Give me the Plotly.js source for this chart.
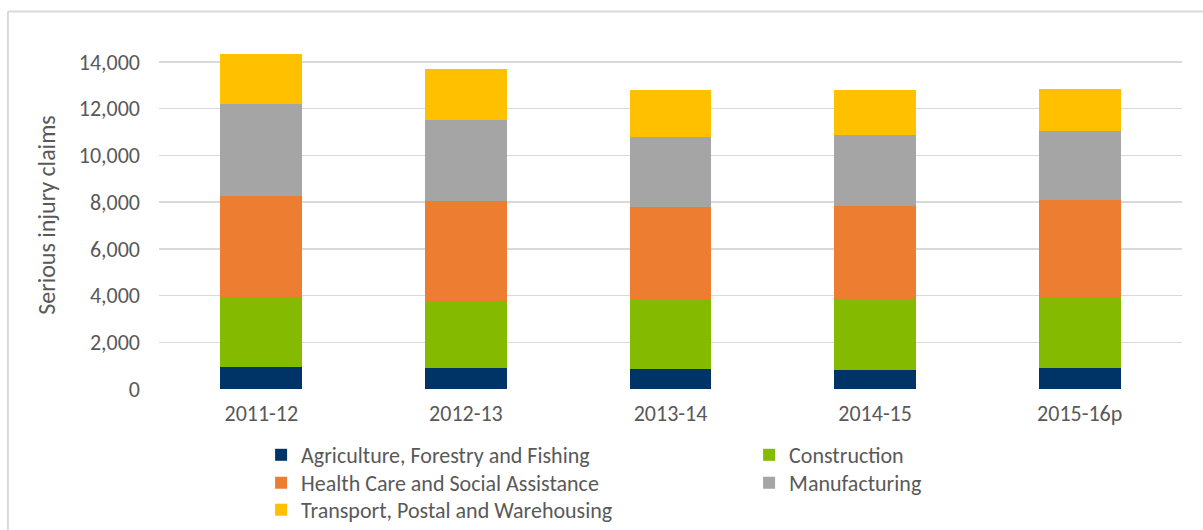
<!DOCTYPE html>
<html>
<head>
<meta charset="utf-8">
<script src="https://cdn.plot.ly/plotly-3.0.1.min.js"></script>
<style>
  html, body { margin: 0; padding: 0; background: #ffffff; }
  #chart { width: 1203px; height: 530px; }
</style>
</head>
<body>
<div id="chart"></div>
<script>
const years = ["2011-12", "2012-13", "2013-14", "2014-15", "2015-16p"];
const agriculture = [950, 910, 850, 810, 900];
const construction = [2990, 2850, 3000, 3045, 3040];
const healthCare = [4340, 4270, 3930, 3985, 4140];
const manufacturing = [3940, 3480, 2990, 3020, 2950];
const transport = [2120, 2200, 2040, 1950, 1820];

const seriesNames = [
  "Agriculture, Forestry and Fishing",
  "Construction",
  "Health Care and Social Assistance",
  "Manufacturing",
  "Transport, Postal and Warehousing"
];
const seriesValues = [agriculture, construction, healthCare, manufacturing, transport];
const seriesColors = ["#003366", "#84BA00", "#ED7D31", "#A5A5A5", "#FFC000"];
const legendRows = ["legend", "legend", "legend2", "legend2", "legend3"];

const FONT = "Carlito, Calibri, 'Open Sans', sans-serif";
const TXT = "#595959";

const traces = seriesNames.map((name, i) => ({
  type: "bar",
  name: name,
  x: years,
  y: seriesValues[i],
  legend: legendRows[i],
  marker: { color: seriesColors[i], line: { width: 0 } },
  hoverinfo: "x+y+name"
}));

function legendRow(y) {
  return {
    orientation: "h",
    x: 0.0998,
    xanchor: "left",
    y: y,
    yanchor: "top",
    entrywidth: 443,
    entrywidthmode: "pixels",
    traceorder: "normal",
    font: { family: FONT, size: 22, color: TXT },
    bgcolor: "rgba(0,0,0,0)"
  };
}

const layout = {
  width: 1203,
  height: 530,
  barmode: "stack",
  bargap: 0.6,
  paper_bgcolor: "#ffffff",
  plot_bgcolor: "#ffffff",
  margin: { l: 159, r: 21, t: 41, b: 141, autoexpand: false },
  font: { family: FONT, color: TXT, size: 22 },
  xaxis: {
    type: "category",
    showgrid: false,
    zeroline: false,
    showline: false,
    ticks: "",
    ticklabelstandoff: 9,
    tickfont: { family: FONT, size: 22, color: TXT },
    automargin: false
  },
  yaxis: {
    range: [0, 14900],
    tickvals: [0, 2000, 4000, 6000, 8000, 10000, 12000, 14000],
    tickformat: ",d",
    showgrid: true,
    gridcolor: "#D9D9D9",
    gridwidth: 1.5,
    zeroline: false,
    showline: false,
    ticks: "",
    ticklabelstandoff: 18,
    tickfont: { family: FONT, size: 22, color: TXT },
    automargin: false,
    title: { text: "Serious injury claims", font: { family: FONT, size: 24, color: TXT }, standoff: 16 }
  },
  showlegend: true,
  legend: legendRow(-0.1293),
  legend2: legendRow(-0.2096),
  legend3: legendRow(-0.2871),
  shapes: [
    { type: "line", xref: "paper", yref: "paper", x0: -0.1477, x1: -0.1477, y0: -0.45, y1: 1.085,
      line: { color: "#D9D9D9", width: 2 } },
    { type: "line", xref: "paper", yref: "paper", x0: -0.1477, x1: 1.05, y0: 1.085, y1: 1.085,
      line: { color: "#D9D9D9", width: 2 } }
  ]
};

Plotly.newPlot("chart", traces, layout, { displayModeBar: false, staticPlot: true });
</script>
</body>
</html>
